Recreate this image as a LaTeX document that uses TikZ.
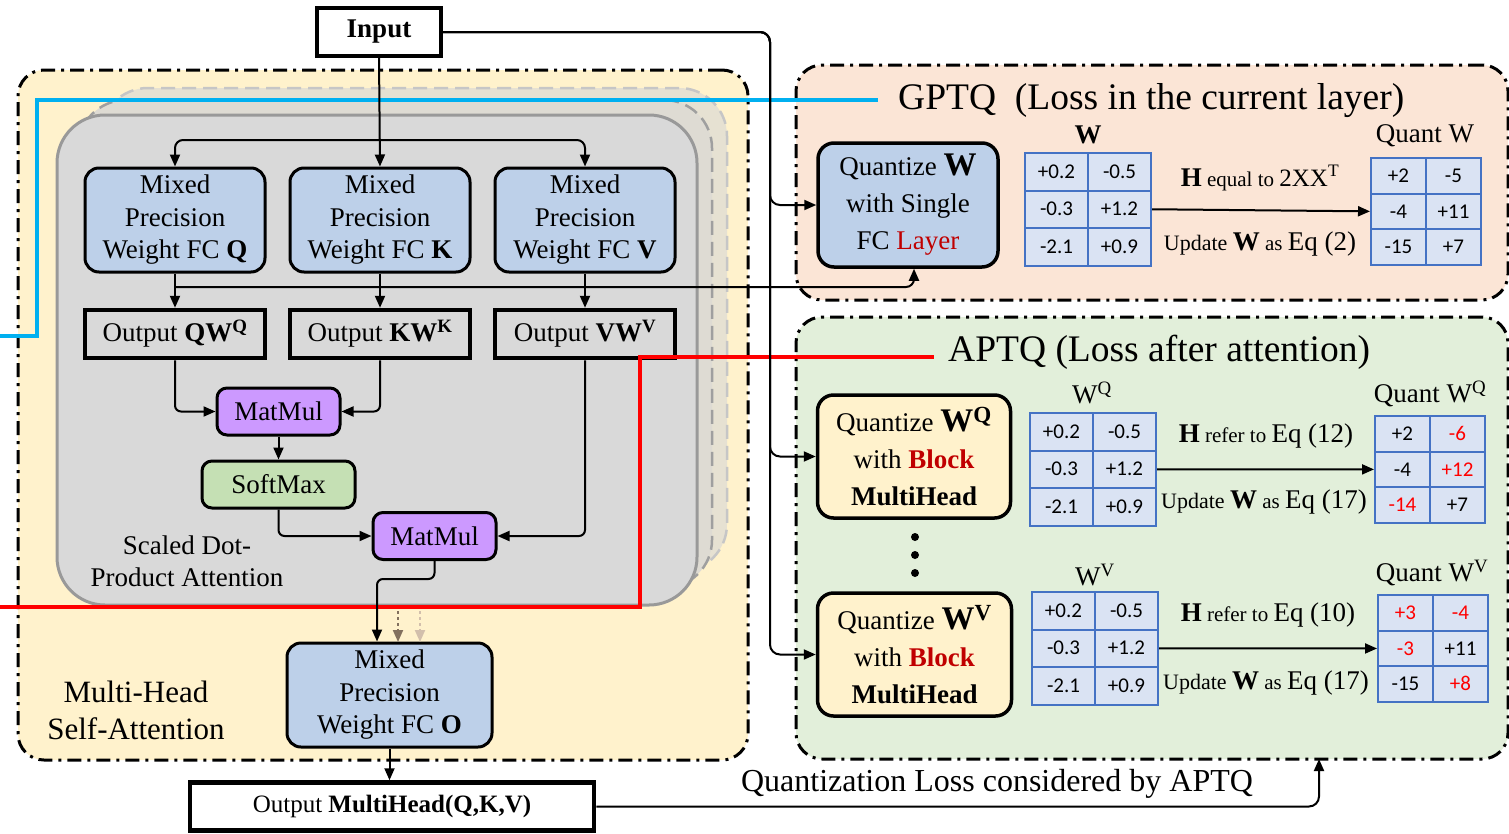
\documentclass[tikz,border=0pt]{standalone}
\usepackage{fontspec}
\setmainfont{Liberation Serif}
\newfontfamily\numfont{Carlito}
\usetikzlibrary{arrows.meta,matrix,calc}
\definecolor{ybg}{HTML}{FFF2CC}
\definecolor{gfront}{HTML}{D9D9D9}
\definecolor{gmid}{HTML}{DEDBD3}
\definecolor{gback}{HTML}{E6E1D2}
\definecolor{mpblue}{HTML}{BDD0E9}
\definecolor{mmpurple}{HTML}{CC99FF}
\definecolor{smgreen}{HTML}{C5E0B4}
\definecolor{peach}{HTML}{FBE5D6}
\definecolor{aptqgreen}{HTML}{E2EFDA}
\definecolor{mcell}{HTML}{DAE3F3}
\definecolor{mblue}{HTML}{4472C4}
\definecolor{lblue}{HTML}{00B0F0}
\definecolor{nred}{HTML}{FF0000}
\definecolor{dred}{HTML}{C00000}
\newcommand\fz[2]{\fontsize{#1pt}{#2pt}\selectfont}
\begin{document}
\begin{tikzpicture}[x=1pt,y=-1pt,
  conn/.style={line width=2pt,-{Triangle[length=12pt,width=10pt]}},
  wire/.style={line width=2pt},
  bigbox/.style={draw=black,line width=3pt,dash pattern=on 14pt off 6pt on 3pt off 6pt,rounded corners=26pt},
  mpbox/.style={draw,line width=3pt,rounded corners=14pt,fill=mpblue,minimum width=180pt,minimum height=104pt,align=center,font=\fz{27}{32.5},inner sep=0pt},
  outbox/.style={draw,line width=4.5pt,fill=gfront,minimum width=180pt,minimum height=48pt,font=\fz{27}{30},inner sep=0pt},
  opbox/.style={draw,line width=3pt,rounded corners=10pt,minimum height=47pt,font=\fz{27}{30},inner sep=0pt},
  qbox/.style={draw,line width=3.5pt,rounded corners=16pt,align=center,font=\fz{27}{37},inner sep=0pt},
  mat/.style={matrix of nodes,inner sep=0pt,outer sep=0pt,column sep=-2pt,row sep=-2pt},
  cellL/.style={draw=mblue,fill=mcell,line width=2pt,minimum width=63pt,minimum height=37.5pt,inner sep=0pt,font=\numfont\fz{21}{24}},
  cellR/.style={draw=mblue,fill=mcell,line width=2pt,minimum width=55pt,minimum height=35.5pt,inner sep=0pt,font=\numfont\fz{21}{24}},
  lbl/.style={inner sep=0pt,font=\fz{27}{30}},
  title/.style={inner sep=0pt,font=\fz{37.5}{40}},
  loss/.style={line width=3.5pt},
  layerdash/.style={dash pattern=on 14pt off 7pt}
]
\useasboundingbox (0,0) rectangle (1509,833);

% ---------- Multi-head self-attention block ----------
\node[bigbox,fill=ybg,minimum width=730pt,minimum height=690pt] (mhsa) at (383,415) {};
\draw[draw=gray!45,fill=gback,line width=2.5pt,layerdash,rounded corners=48pt] (100,88) rectangle (727,572);
\draw[draw=gray!75,fill=gmid,line width=2.5pt,layerdash,rounded corners=48pt] (78,100) rectangle (712,588);
\draw[draw=gray!80,fill=gfront,line width=3pt,rounded corners=48pt] (57,115) rectangle (697,605);

% ---------- GPTQ / APTQ blocks ----------
\node[bigbox,fill=peach,minimum width=712pt,minimum height=235pt] (gptq) at (1152,182.5) {};
\node[bigbox,fill=aptqgreen,minimum width=712pt,minimum height=442pt] (aptq) at (1152,538) {};

% ---------- nodes ----------
\node[draw,line width=4pt,fill=white,minimum width=124pt,minimum height=48pt,inner sep=0pt,font=\fz{27}{30}\bfseries] (in) at (379,32) {Input};

\node[mpbox] (mpq) at (175,220) {Mixed\\Precision\\Weight FC \textbf{Q}};
\node[mpbox] (mpk) at (380,220) {Mixed\\Precision\\Weight FC \textbf{K}};
\node[mpbox] (mpv) at (585,220) {Mixed\\Precision\\Weight FC \textbf{V}};

\node[outbox] (oq) at (175,334) {Output \textbf{QW\textsuperscript{Q}}};
\node[outbox] (ok) at (380,334) {Output \textbf{KW\textsuperscript{K}}};
\node[outbox] (ov) at (585,334) {Output \textbf{VW\textsuperscript{V}}};

\node[opbox,fill=mmpurple,minimum width=123pt] (mm1) at (278.5,411.5) {MatMul};
\node[opbox,fill=smgreen,minimum width=153pt] (sm) at (278.5,484.5) {SoftMax};
\node[opbox,fill=mmpurple,minimum width=123pt] (mm2) at (434.5,536) {MatMul};

\node[align=center,inner sep=0pt,font=\fz{27}{32}] (sdpa) at (187,561) {Scaled Dot-\\Product Attention};

\node[mpbox,minimum width=205pt] (fco) at (389.5,695) {Mixed\\Precision\\Weight FC \textbf{O}};

\node[align=center,inner sep=0pt,font=\fz{31}{37}] (mhlabel) at (136,710) {Multi-Head\\Self-Attention};

\node[draw,line width=4.5pt,fill=white,minimum width=404pt,minimum height=48pt,inner sep=0pt,font=\fz{25}{28}] (omh) at (392,806.5) {Output \textbf{MultiHead(Q,K,V)}};

% titles
\node[title,anchor=west] (gtitle) at (898,101) {GPTQ\ \ (Loss in the current layer)};
\node[title,anchor=west] (atitle) at (948,352) {APTQ (Loss after attention)};

% GPTQ contents
\node[qbox,fill=mpblue,minimum width=180pt,minimum height=124pt] (gq) at (908,205) {Quantize {\fz{33}{37}\textbf{W}}\\with Single\\FC \textcolor{dred}{Layer}};
\matrix (gw) [mat,anchor=north west,nodes={cellL}] at (1024,152) {+0.2 & -0.5\\ -0.3 & +1.2\\ -2.1 & +0.9\\};
\matrix (gqw) [mat,anchor=north west,nodes={cellR}] at (1370,157) {+2 & -5\\ -4 & +11\\ -15 & +7\\};
\node[lbl] (gwl) at (1088,135) {\textbf{W}};
\node[lbl] (gqwl) at (1425,136) {Quant W};
\draw[conn] (gw.east) -- (gqw.west);
\node[inner sep=0pt] (gh) at (1260,178) {{\fz{27}{30}\textbf{H}}{\fz{21}{24} equal to }{\fz{25}{28}2XX\textsuperscript{T}}};
\node[inner sep=0pt] (gu) at (1260,244) {{\fz{22}{24}Update }{\fz{27}{30}\textbf{W}}{\fz{21}{24} as }{\fz{27}{30}Eq (2)}};

% APTQ Q contents
\node[qbox,fill=ybg,minimum width=193pt,minimum height=123pt] (aq) at (914,456.5) {Quantize {\fz{33}{37}\textbf{W\textsuperscript{Q}}}\\with \textcolor{dred}{\textbf{Block}}\\\textbf{MultiHead}};
\matrix (aw) [mat,anchor=north west,nodes={cellL}] at (1029,412) {+0.2 & -0.5\\ -0.3 & +1.2\\ -2.1 & +0.9\\};
\matrix (aqw) [mat,anchor=north west,nodes={cellR}] at (1374,415) {+2 & |[text=nred]| -6\\ -4 & |[text=nred]| +12\\ |[text=nred]| -14 & +7\\};
\node[lbl] (awl) at (1092,393) {W\textsuperscript{Q}};
\node[lbl] (aqwl) at (1430,394) {Quant W\textsuperscript{Q}};
\draw[conn] (aw.east) -- (aqw.west);
\node[inner sep=0pt] (ah) at (1266,436) {{\fz{27}{30}\textbf{H}}{\fz{21}{24} refer to }{\fz{27}{30}Eq (12)}};
\node[inner sep=0pt] (au) at (1264,502) {{\fz{22}{24}Update }{\fz{27}{30}\textbf{W}}{\fz{21}{24} as }{\fz{27}{30}Eq (17)}};

\fill (915,537) circle (4pt);
\fill (915,555) circle (4pt);
\fill (915,573) circle (4pt);

% APTQ V contents
\node[qbox,fill=ybg,minimum width=194pt,minimum height=123pt] (av) at (914.5,654.5) {Quantize {\fz{33}{37}\textbf{W\textsuperscript{V}}}\\with \textcolor{dred}{\textbf{Block}}\\\textbf{MultiHead}};
\matrix (vw) [mat,anchor=north west,nodes={cellL}] at (1031,591) {+0.2 & -0.5\\ -0.3 & +1.2\\ -2.1 & +0.9\\};
\matrix (vqw) [mat,anchor=north west,nodes={cellR}] at (1377,594) {|[text=nred]| +3 & |[text=nred]| -4\\ |[text=nred]| -3 & +11\\ -15 & |[text=nred]| +8\\};
\node[lbl] (vwl) at (1095,575) {W\textsuperscript{V}};
\node[lbl] (vqwl) at (1432,573) {Quant W\textsuperscript{V}};
\draw[conn] (vw.east) -- (vqw.west);
\node[inner sep=0pt] (vh) at (1268,615) {{\fz{27}{30}\textbf{H}}{\fz{21}{24} refer to }{\fz{27}{30}Eq (10)}};
\node[inner sep=0pt] (vu) at (1266,683) {{\fz{22}{24}Update }{\fz{27}{30}\textbf{W}}{\fz{21}{24} as }{\fz{27}{30}Eq (17)}};

\node[inner sep=0pt,font=\fz{32}{36}] (losslbl) at (997,784) {Quantization Loss considered by APTQ};

% ---------- coordinates ----------
\coordinate (split) at (379,140);
\coordinate (qbus) at (175,287);
\coordinate (busTop) at (770,32);
\coordinate (bl0) at (0,336);
\coordinate (bl1) at (37,336);
\coordinate (bl2) at (37,100);
\coordinate (rl0) at (0,607);
\coordinate (rl1) at (640,607);
\coordinate (rl2) at (640,357);
\coordinate (lossup) at (1319,759);
\coordinate (d1s) at (398,611);
\coordinate (d1e) at (398,642);
\coordinate (d2s) at (420,611);
\coordinate (d2e) at (420,642);

% ---------- loss lines ----------
\draw[loss,draw=lblue] (bl0) -- (bl1) -- (bl2) -- ([xshift=-20pt]gtitle.west |- bl2);
\draw[loss,draw=nred] (rl0) -- (rl1) -- (rl2) -- ([xshift=-14pt]atitle.west |- rl2);

% ---------- connectors ----------
\draw[conn] (in.south) -- (mpk.north);
\draw[conn,rounded corners=8pt] (split) -| (mpq.north);
\draw[conn,rounded corners=8pt] (split) -| (mpv.north);
\draw[conn,rounded corners=10pt] (in.east) -- (busTop) |- (gq.west);
\draw[conn,rounded corners=10pt] (in.east) -- (busTop) |- (aq.west);
\draw[conn,rounded corners=10pt] (in.east) -- (busTop) |- (av.west);

\draw[conn] (mpq.south) -- (oq.north);
\draw[conn] (mpk.south) -- (ok.north);
\draw[conn] (mpv.south) -- (ov.north);
\draw[conn,rounded corners=8pt] (qbus) -| ([xshift=6pt]gq.south);

\draw[conn,rounded corners=6pt] (oq.south) |- (mm1.west);
\draw[conn,rounded corners=6pt] (ok.south) |- (mm1.east);
\draw[conn] (mm1.south) -- (sm.north);
\draw[conn,rounded corners=6pt] (sm.south) |- (mm2.west);
\draw[conn,rounded corners=6pt] (ov.south) |- (mm2.east);
\draw[conn,rounded corners=6pt] (mm2.south) -- ++(0,18) -| ([xshift=-12.5pt]fco.north);
\draw[conn,draw=black!60!brown!70,dashed] (d1s) -- (d1e);
\draw[conn,draw=black!25!brown!40,dashed] (d2s) -- (d2e);
\draw[conn] (fco.south) -- (fco.south |- omh.north);
\draw[conn,rounded corners=10pt] (omh.east) -| (lossup);
\end{tikzpicture}
\end{document}
